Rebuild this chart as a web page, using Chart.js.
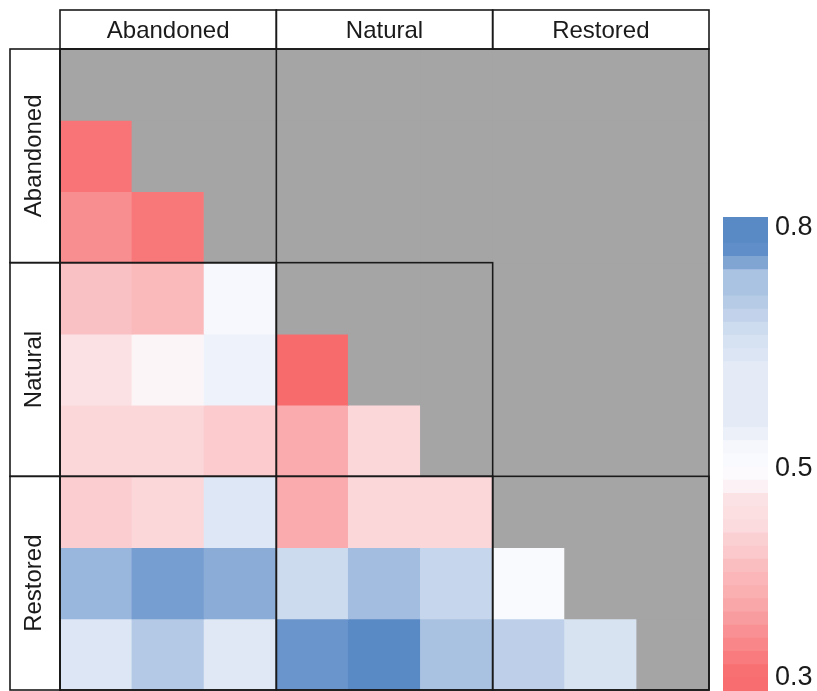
<!DOCTYPE html>
<html>
<head>
<meta charset="utf-8">
<script src="https://cdn.jsdelivr.net/npm/chart.js@4.4.0/dist/chart.umd.min.js"></script>
<style>
  html, body { margin: 0; padding: 0; background: #ffffff; }
  #wrap { position: relative; width: 817px; height: 691px; overflow: hidden; background: #ffffff; }
  #main { position: absolute; left: 0; top: 0; }
  #leg { position: absolute; left: 700px; top: 200px; }
</style>
</head>
<body>
<div id="wrap">
  <canvas id="main" width="817" height="691"></canvas>
  <canvas id="leg" width="117" height="491"></canvas>
</div>
<script>
// ---------- data ----------
const groups = ['Abandoned', 'Natural', 'Restored'];
const sites = ['A1', 'A2', 'A3', 'N1', 'N2', 'N3', 'R1', 'R2', 'R3'];

// lower-triangle values, one array per row (column order = sites)
const rowA1 = [];
const rowA2 = [0.315];
const rowA3 = [0.35, 0.32];
const rowN1 = [0.42, 0.41, 0.51];
const rowN2 = [0.463, 0.49, 0.526, 0.303];
const rowN3 = [0.45, 0.45, 0.433, 0.39, 0.45];
const rowR1 = [0.436, 0.45, 0.555, 0.39, 0.45, 0.45];
const rowR2 = [0.683, 0.748, 0.71, 0.587, 0.665, 0.60, 0.505];
const rowR3 = [0.557, 0.633, 0.552, 0.77, 0.80, 0.652, 0.615, 0.567];

// colour-bar bands, bottom to top
const legendValues = [0.305, 0.31, 0.325, 0.34, 0.355, 0.37, 0.385, 0.395, 0.405, 0.415,
                      0.43, 0.44, 0.455, 0.46, 0.465, 0.485, 0.497, 0.505, 0.512, 0.53,
                      0.545, 0.545, 0.545, 0.545, 0.545, 0.56, 0.57, 0.585, 0.61, 0.63,
                      0.65, 0.65, 0.73, 0.79, 0.80, 0.80];
const legendTicks = [0.3, 0.5, 0.8];
const legendTickLabels = ['0.3', '0.5', '0.8'];

// ---------- styling ----------
const FONT = '"Liberation Sans", Arial, Helvetica, sans-serif';
const TEXT = '#1a1a1a';
const NA_COLOR = '#a5a5a5';
const LOW = [248, 105, 107], MID = [252, 252, 255], HIGH = [90, 138, 198];

function colorFor(v) {
  if (v === null || v === undefined) return NA_COLOR;
  let a, b, t;
  if (v < 0.5) { a = LOW; b = MID; t = (v - 0.3) / 0.2; }
  else { a = MID; b = HIGH; t = (v - 0.5) / 0.3; }
  t = Math.max(0, Math.min(1, t));
  const c = a.map((x, i) => Math.round(x + (b[i] - x) * t));
  return 'rgb(' + c.join(',') + ')';
}

const matrix = [rowA1, rowA2, rowA3, rowN1, rowN2, rowN3, rowR1, rowR2, rowR3];
const perGroup = sites.length / groups.length;

const datasets = matrix.map((row, r) => ({
  label: sites[r],
  data: sites.map(() => [r, r + 1]),
  backgroundColor: sites.map((s, c) => colorFor(c < row.length ? row[c] : null)),
  borderWidth: 0,
  inflateAmount: 0.5,
  grouped: false,
  barPercentage: 1,
  categoryPercentage: 1,
  xAxisID: 'x',
  yAxisID: 'y'
}));

const facetBorders = {
  id: 'facetBorders',
  afterDatasetsDraw(chart) {
    const { ctx, chartArea: ca, scales } = chart;
    const xs = scales.x, ys = scales.y, xt = scales.xStrip, yl = scales.yStrip;
    const xp = i => xs.getPixelForValue(i - 0.5);
    const yp = i => ys.getPixelForValue(i);
    ctx.save();
    ctx.strokeStyle = '#1a1a1a';
    ctx.lineWidth = 1.6;
    groups.forEach((g, gi) => {
      const a = gi * perGroup, b = a + perGroup;
      ctx.strokeRect(xp(a), xt.top, xp(b) - xp(a), xt.bottom - xt.top);
      ctx.strokeRect(yl.left, yp(a), yl.right - yl.left, yp(b) - yp(a));
      for (let gc = 0; gc <= gi; gc++) {
        const ca0 = gc * perGroup, cb0 = ca0 + perGroup;
        ctx.strokeRect(xp(ca0), yp(a), xp(cb0) - xp(ca0), yp(b) - yp(a));
      }
    });
    ctx.strokeRect(ca.left, ca.top, ca.right - ca.left, ca.bottom - ca.top);
    ctx.restore();
  }
};

new Chart(document.getElementById('main'), {
  type: 'bar',
  data: { labels: sites, datasets },
  plugins: [facetBorders],
  options: {
    responsive: false,
    animation: false,
    devicePixelRatio: 1,
    layout: { padding: { left: 10, top: 10, right: 108, bottom: 1 } },
    plugins: { legend: { display: false }, tooltip: { enabled: false } },
    scales: {
      x: { type: 'category', labels: sites, display: false, offset: true },
      y: { type: 'linear', min: 0, max: sites.length, reverse: true, display: false },
      xStrip: {
        type: 'category', labels: groups, position: 'top', offset: true,
        grid: { display: false, drawTicks: false }, border: { display: false },
        ticks: { font: { family: FONT, size: 24 }, color: TEXT, padding: 3, autoSkip: false, maxRotation: 0 },
        afterFit: s => { s.height = 39; }
      },
      yStrip: {
        type: 'category', labels: groups, position: 'left', offset: true,
        grid: { display: false, drawTicks: false }, border: { display: false },
        ticks: { font: { family: FONT, size: 24 }, color: TEXT, minRotation: 90, maxRotation: 90,
                 crossAlign: 'center', padding: -36, autoSkip: false },
        afterFit: s => { s.width = 50; }
      }
    }
  }
});

function legendPos(v) {
  const n = legendValues.length;
  let p = 0.5;
  if (v <= legendValues[0]) p = 0.5;
  else if (v >= legendValues[n - 1]) p = n - 0.5;
  else {
    for (let i = 0; i < n - 1; i++) {
      const a = legendValues[i], b = legendValues[i + 1];
      if (v >= a && v <= b) { p = i + 0.5 + (b > a ? (v - a) / (b - a) : 0); break; }
    }
  }
  return Math.min(n - 0.8, Math.max(1.0, p));
}

new Chart(document.getElementById('leg'), {
  type: 'bar',
  data: {
    labels: ['scale'],
    datasets: legendValues.map((v, i) => ({
      data: [[i, i + 1]],
      backgroundColor: colorFor(v),
      borderWidth: 0,
      inflateAmount: 0.5,
      grouped: false,
      barPercentage: 1,
      categoryPercentage: 1
    }))
  },
  options: {
    responsive: false,
    animation: false,
    devicePixelRatio: 1,
    layout: { padding: { left: 23, top: 17, right: 0, bottom: 0 } },
    plugins: { legend: { display: false }, tooltip: { enabled: false } },
    scales: {
      x: { display: false, offset: true },
      y: {
        position: 'right', min: 0, max: legendValues.length,
        grid: { display: false, drawTicks: false }, border: { display: false },
        afterBuildTicks: s => { s.ticks = legendTicks.map(v => ({ value: legendPos(v) })); },
        ticks: { callback: (val, idx) => legendTickLabels[idx], padding: 7,
                 font: { family: FONT, size: 27 }, color: TEXT, autoSkip: false },
        afterFit: s => { s.width = 49; s.paddingTop = 0; s.paddingBottom = 0; }
      }
    }
  }
});
</script>
</body>
</html>
